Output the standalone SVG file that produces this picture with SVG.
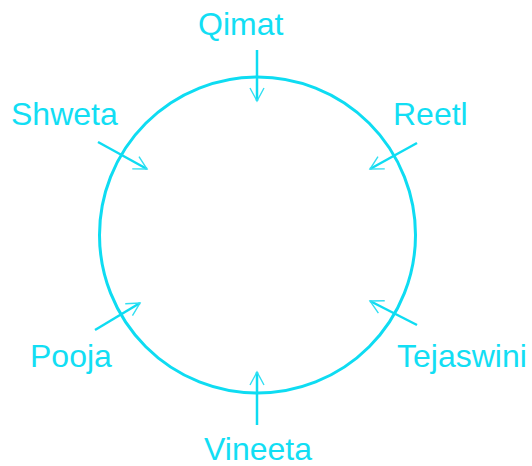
<svg xmlns="http://www.w3.org/2000/svg" width="532" height="466" viewBox="0 0 532 466">
<style>
.lbl{font-family:"Liberation Sans",Arial,sans-serif;font-size:32px;fill:#12def4}
.arr{stroke:#0edcf2;stroke-width:2.5;fill:none;marker-end:url(#ah)}
</style>
<defs>
<marker id="ah" markerUnits="userSpaceOnUse" viewBox="-14 -9 16 18" refX="0" refY="0" markerWidth="16" markerHeight="18" orient="auto">
<path d="M-13,-7 L0,0 L-13,7" fill="none" stroke="#30dff2" stroke-width="1.4"/>
</marker>
</defs>
<rect width="532" height="466" fill="#ffffff"/>
<g id="circle"><circle cx="257.5" cy="235" r="158" fill="none" stroke="#0edcf2" stroke-width="3"/></g>
<g id="Qimat"><text class="lbl" x="198" y="35">Qimat</text></g>
<g id="Shweta"><text class="lbl" x="11" y="125">Shweta</text></g>
<g id="Reetl"><text class="lbl" x="393" y="125">Reetl</text></g>
<g id="Pooja"><text class="lbl" x="30" y="367">Pooja</text></g>
<g id="Tejaswini"><text class="lbl" x="397" y="367">Tejaswini</text></g>
<g id="Vineeta"><text class="lbl" x="258" y="460" text-anchor="middle">Vineeta</text></g>
<g id="connectors">
<line class="arr" x1="257" y1="50" x2="257" y2="101"/>
<line class="arr" x1="98" y1="142" x2="147" y2="169"/>
<line class="arr" x1="417" y1="143" x2="370" y2="169"/>
<line class="arr" x1="95" y1="330" x2="140" y2="303"/>
<line class="arr" x1="417" y1="325" x2="370" y2="301"/>
<line class="arr" x1="257" y1="425" x2="257" y2="372"/>
</g>
</svg>
